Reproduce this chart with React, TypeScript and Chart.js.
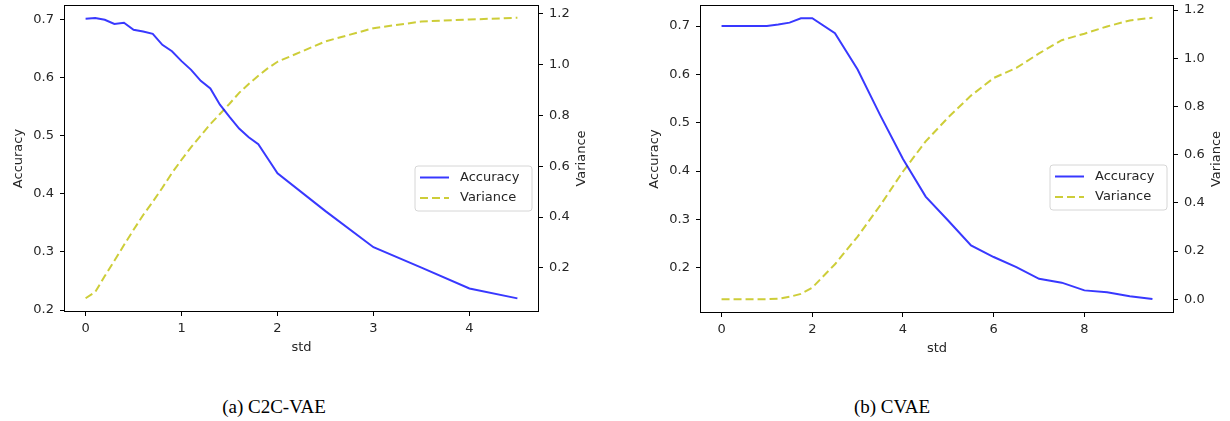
import React, { useEffect, useRef } from "react";
import { Chart, registerables } from "chart.js";
Chart.register(...registerables);

// ---- Data: (a) C2C-VAE ----
const stdA = [0, 0.1, 0.2, 0.3, 0.4, 0.5, 0.6, 0.7, 0.8, 0.9, 1.0, 1.1, 1.2, 1.3, 1.4, 1.5, 1.6, 1.7, 1.8, 1.9, 2.0, 2.5, 3.0, 3.5, 4.0, 4.5];
const accA = [0.701, 0.702, 0.699, 0.692, 0.694, 0.682, 0.679, 0.675, 0.656, 0.645, 0.628, 0.613, 0.594, 0.581, 0.553, 0.532, 0.512, 0.497, 0.485, 0.46, 0.435, 0.37, 0.308, 0.273, 0.237, 0.22];
const varA = [0.081, 0.105, 0.168, 0.228, 0.29, 0.35, 0.408, 0.46, 0.515, 0.573, 0.625, 0.675, 0.72, 0.765, 0.805, 0.845, 0.888, 0.923, 0.955, 0.985, 1.01, 1.09, 1.142, 1.168, 1.176, 1.183];

// ---- Data: (b) CVAE ----
const stdB = [0, 0.25, 0.5, 0.75, 1.0, 1.25, 1.5, 1.75, 2.0, 2.5, 3.0, 3.5, 4.0, 4.5, 5.0, 5.5, 6.0, 6.5, 7.0, 7.5, 8.0, 8.5, 9.0, 9.5];
const accB = [0.7, 0.7, 0.7, 0.7, 0.7, 0.703, 0.707, 0.716, 0.716, 0.685, 0.61, 0.515, 0.425, 0.347, 0.297, 0.246, 0.222, 0.201, 0.177, 0.169, 0.153, 0.149, 0.141, 0.135];
const varB = [0, 0, 0, 0, 0, 0.002, 0.01, 0.022, 0.048, 0.145, 0.26, 0.39, 0.53, 0.655, 0.755, 0.845, 0.918, 0.96, 1.02, 1.075, 1.102, 1.132, 1.157, 1.168];

// ---- Tick labels ----
const xTicksA = [0, 1, 2, 3, 4];
const xTicksB = [0, 2, 4, 6, 8];
const accTicksA = [0.2, 0.3, 0.4, 0.5, 0.6, 0.7];
const accTicksB = [0.2, 0.3, 0.4, 0.5, 0.6, 0.7];
const varTicksA = [0.2, 0.4, 0.6, 0.8, 1.0, 1.2];
const varTicksB = [0.0, 0.2, 0.4, 0.6, 0.8, 1.0, 1.2];

const seriesLabels = ["Accuracy", "Variance"];
const xTitle = "std";
const captions = ["(a) C2C-VAE", "(b) CVAE"];

const FONT = "'DejaVu Sans', sans-serif";
const TEXT = "#262626";
const BLUE = "rgba(0,0,255,0.78)";
const YEL = "rgba(191,191,0,0.78)";

type Cfg = {
  std: number[]; acc: number[]; vari: number[];
  xRange: [number, number]; xTicks: number[];
  aRange: [number, number]; aTicks: number[];
  vRange: [number, number]; vTicks: number[];
  leftW: number; rightW: number; bottomH: number;
  xFmt: (v: number) => string;
  legendTop: number;
};

const decoPlugin = {
  id: "deco",
  afterDraw(chart: any) {
    const { ctx, chartArea } = chart;
    const { left, right, top, bottom } = chartArea;
    const o = chart.options.plugins.deco;
    ctx.save();
    // frame
    ctx.strokeStyle = "#000";
    ctx.lineWidth = 1;
    ctx.strokeRect(Math.round(left) + 0.5, Math.round(top) + 0.5, Math.round(right - left) - 1, Math.round(bottom - top) - 1);
    // axis titles
    ctx.fillStyle = TEXT;
    ctx.font = `13px ${FONT}`;
    ctx.textAlign = "center";
    ctx.textBaseline = "middle";
    ctx.fillText(xTitle, (left + right) / 2, bottom + 36);
    ctx.save();
    ctx.translate(left - 45, (top + bottom) / 2);
    ctx.rotate(-Math.PI / 2);
    ctx.fillText(seriesLabels[0], 0, 0);
    ctx.restore();
    ctx.save();
    ctx.translate(right + 43, (top + bottom) / 2);
    ctx.rotate(-Math.PI / 2);
    ctx.fillText(seriesLabels[1], 0, 0);
    ctx.restore();
    // legend
    const bw = 117, bh = 45;
    const bx = right - 7 - bw, by = o.legendTop;
    const r = 3;
    ctx.beginPath();
    ctx.moveTo(bx + r, by);
    ctx.lineTo(bx + bw - r, by);
    ctx.quadraticCurveTo(bx + bw, by, bx + bw, by + r);
    ctx.lineTo(bx + bw, by + bh - r);
    ctx.quadraticCurveTo(bx + bw, by + bh, bx + bw - r, by + bh);
    ctx.lineTo(bx + r, by + bh);
    ctx.quadraticCurveTo(bx, by + bh, bx, by + bh - r);
    ctx.lineTo(bx, by + r);
    ctx.quadraticCurveTo(bx, by, bx + r, by);
    ctx.closePath();
    ctx.fillStyle = "rgba(255,255,255,0.8)";
    ctx.fill();
    ctx.strokeStyle = "#d6d6d6";
    ctx.lineWidth = 1;
    ctx.stroke();
    chart.data.datasets.forEach((ds: any, i: number) => {
      const cy = by + 11.5 + i * 20.5;
      ctx.beginPath();
      ctx.strokeStyle = ds.borderColor;
      ctx.lineWidth = ds.borderWidth;
      ctx.setLineDash(ds.borderDash || []);
      ctx.moveTo(bx + 5, cy);
      ctx.lineTo(bx + 34, cy);
      ctx.stroke();
      ctx.setLineDash([]);
      ctx.fillStyle = TEXT;
      ctx.textAlign = "left";
      ctx.fillText(ds.label, bx + 45, cy);
    });
    ctx.restore();
  },
};

function DualChart({ cfg, width, height }: { cfg: Cfg; width: number; height: number }) {
  const ref = useRef<HTMLCanvasElement | null>(null);
  useEffect(() => {
    if (!ref.current) return;
    const zeroPad = (s: any) => {
      s.paddingTop = 0; s.paddingBottom = 0; s.paddingLeft = 0; s.paddingRight = 0;
    };
    const tickFont = { family: FONT, size: 13 };
    const chart = new Chart(ref.current, {
      type: "line",
      data: {
        datasets: [
          {
            label: seriesLabels[0],
            data: cfg.std.map((x, i) => ({ x, y: cfg.acc[i] })),
            borderColor: BLUE,
            borderWidth: 2,
            pointRadius: 0,
            tension: 0,
            yAxisID: "y",
          },
          {
            label: seriesLabels[1],
            data: cfg.std.map((x, i) => ({ x, y: cfg.vari[i] })),
            borderColor: YEL,
            borderWidth: 2,
            borderDash: [8, 4],
            pointRadius: 0,
            tension: 0,
            yAxisID: "y1",
          },
        ],
      },
      options: {
        animation: false,
        responsive: false,
        devicePixelRatio: 1,
        layout: { padding: { top: 5, left: 0, right: 0, bottom: 0 } },
        plugins: {
          legend: { display: false },
          tooltip: { enabled: false },
          deco: { legendTop: cfg.legendTop },
        } as any,
        scales: {
          x: {
            type: "linear",
            min: cfg.xRange[0],
            max: cfg.xRange[1],
            afterBuildTicks: (s: any) => { s.ticks = cfg.xTicks.map((v) => ({ value: v })); },
            afterFit: (s: any) => { s.height = cfg.bottomH; zeroPad(s); },
            ticks: { font: tickFont, color: TEXT, padding: 5, maxRotation: 0, callback: (v: any) => cfg.xFmt(Number(v)) },
            grid: { display: true, drawOnChartArea: false, drawTicks: true, tickLength: 4, color: "#000" },
            border: { display: false },
          },
          y: {
            type: "linear",
            position: "left",
            min: cfg.aRange[0],
            max: cfg.aRange[1],
            afterBuildTicks: (s: any) => { s.ticks = cfg.aTicks.map((v) => ({ value: v })); },
            afterFit: (s: any) => { s.width = cfg.leftW; zeroPad(s); },
            ticks: { font: tickFont, color: TEXT, padding: 6, callback: (v: any) => Number(v).toFixed(1) },
            grid: { display: true, drawOnChartArea: false, drawTicks: true, tickLength: 4, color: "#000" },
            border: { display: false },
          },
          y1: {
            type: "linear",
            position: "right",
            min: cfg.vRange[0],
            max: cfg.vRange[1],
            afterBuildTicks: (s: any) => { s.ticks = cfg.vTicks.map((v) => ({ value: v })); },
            afterFit: (s: any) => { s.width = cfg.rightW; zeroPad(s); },
            ticks: { font: tickFont, color: TEXT, padding: 6, callback: (v: any) => Number(v).toFixed(1) },
            grid: { display: true, drawOnChartArea: false, drawTicks: true, tickLength: 4, color: "#000" },
            border: { display: false },
          },
        },
      },
      plugins: [decoPlugin],
    } as any);
    return () => chart.destroy();
  }, [cfg]);
  return <canvas ref={ref} width={width} height={height} style={{ width, height, display: "block" }} />;
}

const cfgA: Cfg = {
  std: stdA, acc: accA, vari: varA,
  xRange: [-0.225, 4.725], xTicks: xTicksA,
  aRange: [0.1966, 0.7245], aTicks: accTicksA,
  vRange: [0.027, 1.233], vTicks: varTicksA,
  leftW: 64, rightW: 76, bottomH: 58,
  xFmt: (v) => String(v),
  legendTop: 166,
};

const cfgB: Cfg = {
  std: stdB, acc: accB, vari: varB,
  xRange: [-0.475, 9.975], xTicks: xTicksB,
  aRange: [0.1062, 0.7435], aTicks: accTicksB,
  vRange: [-0.0573, 1.221], vTicks: varTicksB,
  leftW: 85, rightW: 56, bottomH: 57,
  xFmt: (v) => String(v),
  legendTop: 165,
};

export default function App() {
  return (
    <div style={{ position: "fixed", left: 0, top: 0, width: 1230, height: 421, background: "#fff", overflow: "hidden" }}>
      <div style={{ position: "absolute", left: 0, top: 0 }}>
        <DualChart cfg={cfgA} width={615} height={370} />
      </div>
      <div style={{ position: "absolute", left: 615, top: 0 }}>
        <DualChart cfg={cfgB} width={615} height={370} />
      </div>
      <div style={{ position: "absolute", left: 124, width: 300, top: 394, textAlign: "center", fontFamily: "'Liberation Serif', serif", fontSize: 19, lineHeight: "26px", color: "#000" }}>
        {captions[0]}
      </div>
      <div style={{ position: "absolute", left: 742, width: 300, top: 394, textAlign: "center", fontFamily: "'Liberation Serif', serif", fontSize: 19, lineHeight: "26px", color: "#000" }}>
        {captions[1]}
      </div>
    </div>
  );
}
